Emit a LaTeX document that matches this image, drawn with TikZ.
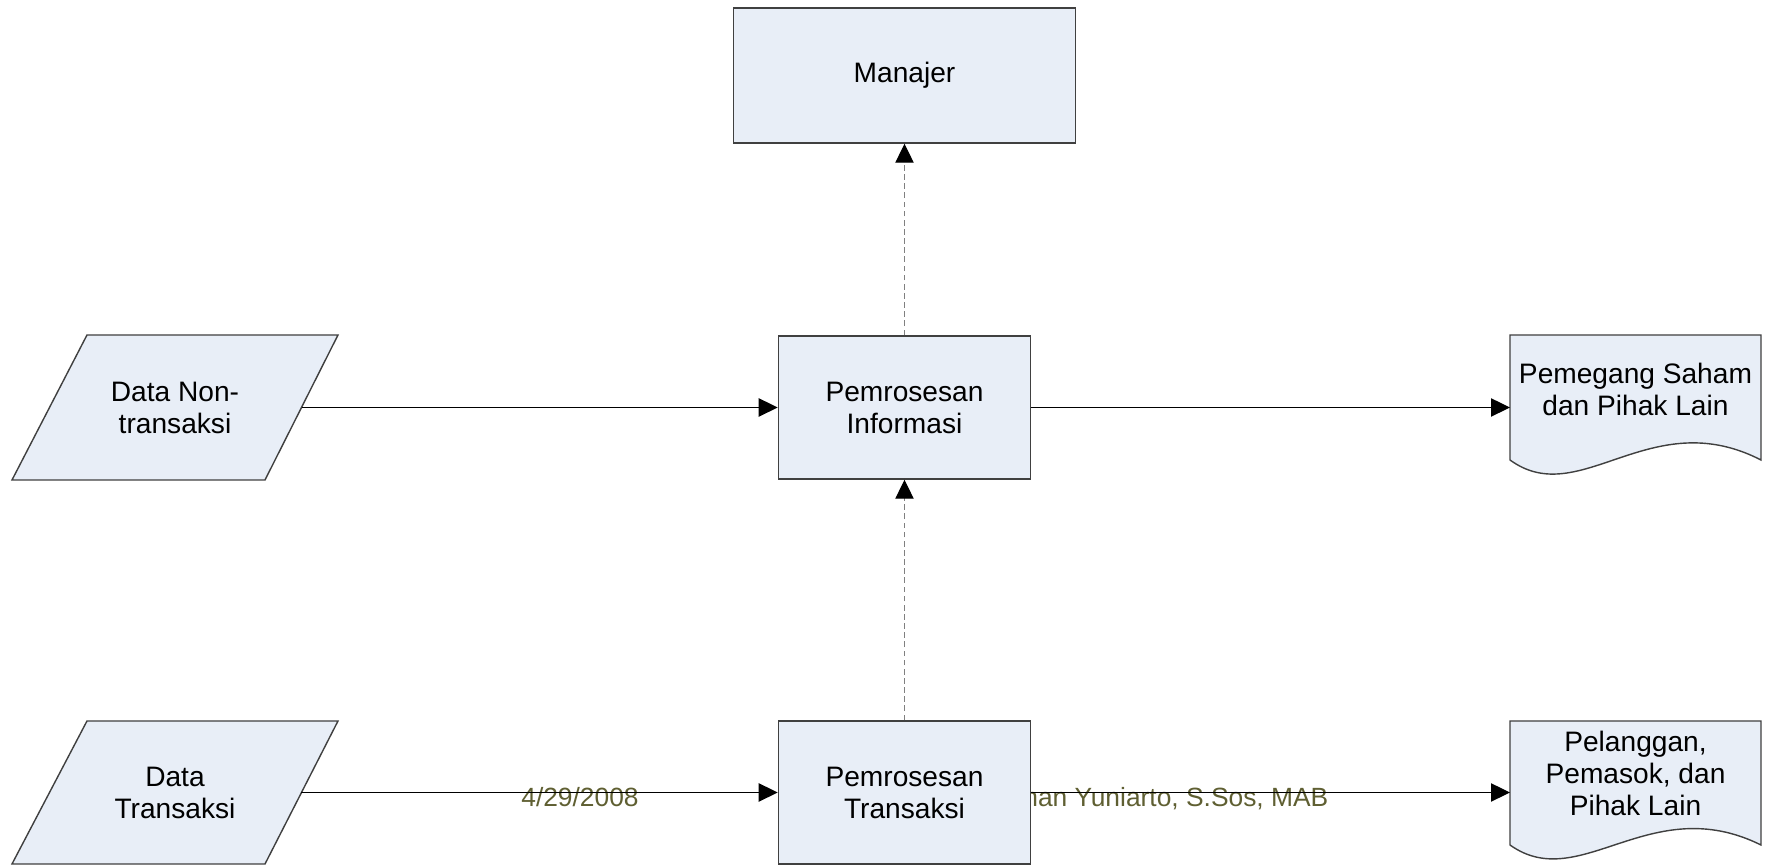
\documentclass[tikz,border=0pt]{standalone}
\usepackage{fontspec}
\setmainfont{Liberation Sans}
\usetikzlibrary{arrows.meta}
\definecolor{boxfill}{HTML}{E8EEF7}
\definecolor{boxline}{HTML}{404040}
\definecolor{footc}{RGB}{95,95,50}
\begin{document}
\begin{tikzpicture}[x=0.01cm,y=-0.01cm,
  box/.style={draw=boxline, fill=boxfill, line width=0.4pt, minimum width=2.52cm, minimum height=1.43cm, inner sep=0pt, align=center, font=\fontsize{8}{9.1}\selectfont},
  shapeline/.style={draw=boxline, fill=boxfill, line width=0.4pt},
  lbl/.style={align=center, inner sep=0pt, font=\fontsize{8}{9.1}\selectfont},
  arr/.style={draw=black, line width=0.35pt, -{Triangle[length=5.4pt,width=5.2pt]}},
  darr/.style={draw=gray, line width=0.35pt, dash pattern=on 1.6pt off 1pt, -{Triangle[length=5.4pt,width=5.2pt,color=black,fill=black]}},
  foot/.style={text=footc, inner sep=0pt, font=\fontsize{7.5}{9}\selectfont}]
\useasboundingbox (0,0) rectangle (1769,865);

% footer texts (behind everything)
\node[foot, anchor=base] (date) at (580,807) {4/29/2008};
\node[foot, anchor=base east] (author) at (1329,807) {man Yuniarto, S.Sos, MAB};

% process boxes
\node[box, minimum width=3.42cm, minimum height=1.35cm] (man) at (904.5,75.5) {Manajer};
\node[box] (pi) at (904.5,407.5) {Pemrosesan\\Informasi};
\node[box] (pt) at (904.5,792.5) {Pemrosesan\\Transaksi};

% input parallelograms
\draw[shapeline] (87,335) -- (338,335) -- (265,480) -- (12,480) -- cycle;
\node[lbl] (dnt) at (175,407.5) {Data Non-\\transaksi};
\coordinate (dntR) at (301.5,407.5);
\draw[shapeline] (87,721) -- (338,721) -- (265,864) -- (12,864) -- cycle;
\node[lbl] (dt) at (175,792.5) {Data\\Transaksi};
\coordinate (dtR) at (301.2,792.5);

% output documents
\draw[shapeline] (1510,335) -- (1761,335) -- (1761,460) .. controls (1650,403) and (1580,511) .. (1510,460) -- cycle;
\node[lbl] (psh) at (1635.5,389) {Pemegang Saham\\dan Pihak Lain};
\coordinate (pshW) at (1510,407.5);
\draw[shapeline] (1510,721) -- (1761,721) -- (1761,845) .. controls (1650,790) and (1580,895) .. (1510,845) -- cycle;
\node[lbl] (ppl) at (1635.5,773.5) {Pelanggan,\\Pemasok, dan\\Pihak Lain};
\coordinate (pplW) at (1510,792.5);

% connectors
\draw[arr] (dntR) -- (pi);
\draw[arr] (pi) -- (pshW);
\draw[arr] (dtR) -- (pt);
\draw[arr] (pt) -- (pplW);
\draw[darr] (pt.north) -- (pi.south);
\draw[darr] (pi.north) -- (man.south);
\end{tikzpicture}
\end{document}
